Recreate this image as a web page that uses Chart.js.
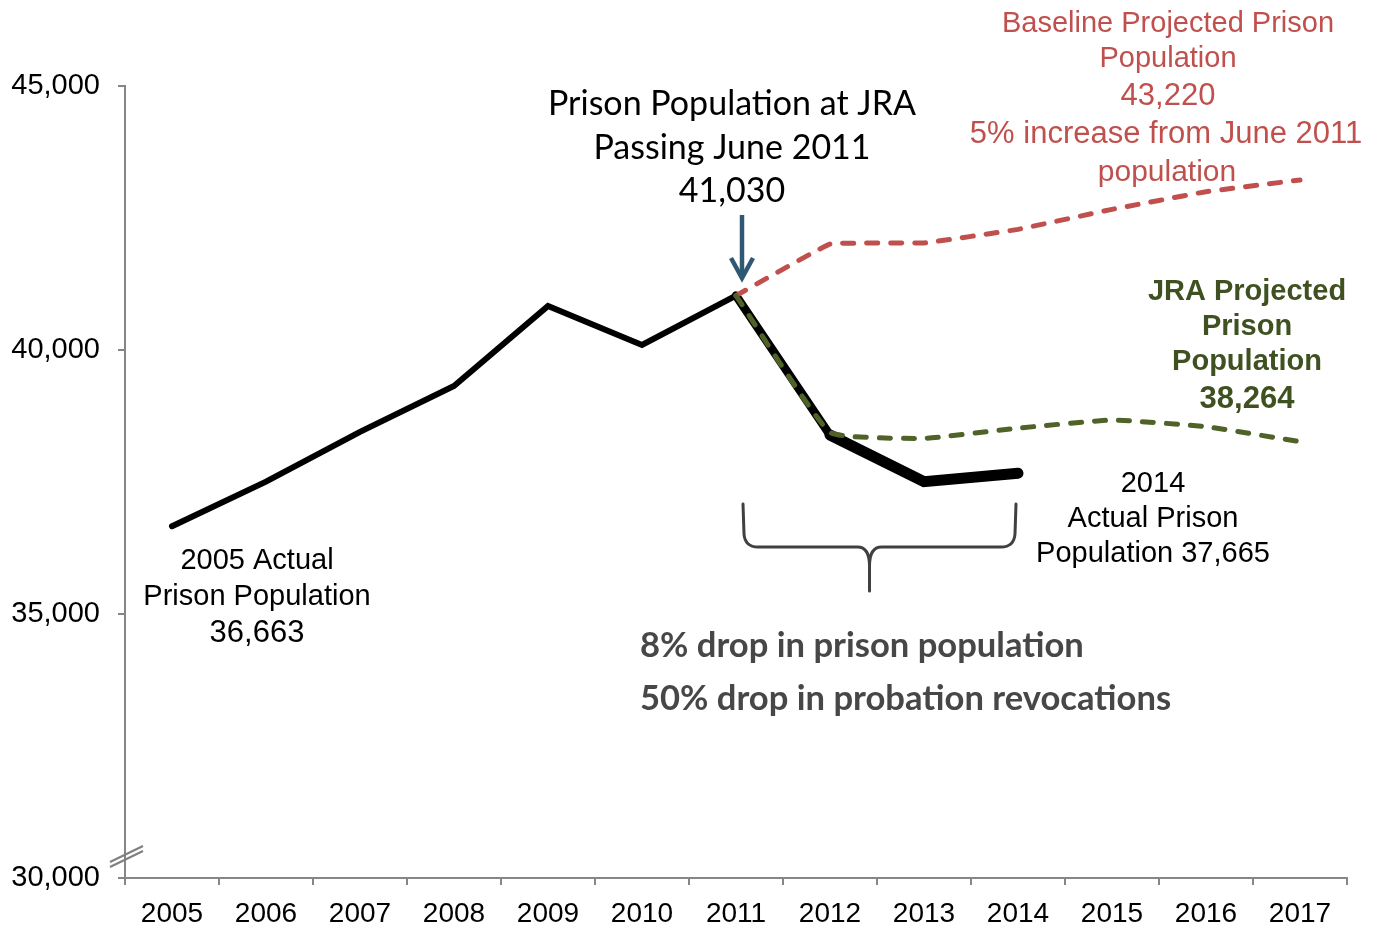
<!DOCTYPE html>
<html>
<head>
<meta charset="utf-8">
<script src="https://cdn.jsdelivr.net/npm/chart.js@4/dist/chart.umd.min.js"></script>
<style>
  html, body { margin: 0; padding: 0; background: #fff; }
  #wrap { width: 1382px; height: 928px; position: relative; }
</style>
</head>
<body>
<div id="wrap"><canvas id="c"></canvas></div>
<script>
// ---- data ----
const years = ['2005','2006','2007','2008','2009','2010','2011','2012','2013','2014','2015','2016','2017'];
const actualPop = [36663, 37506, 38450, 39318, 40833, 40095, 41030, 38390, 37506, 37665, null, null, null];
const baselineProj = [null, null, null, null, null, null, 41030, 42008, 42027, 42285, 42664, 42998, 43220];
const jraProj = [null, null, null, null, null, null, 41030, 38441, 38327, 38520, 38674, 38548, 38264];
const yTickValues = [30000, 35000, 40000, 45000];

const RED = '#c0504d';
const GREEN = '#4f6228';
const AXIS = '#868686';
const SANS = '"Liberation Sans", Arial, sans-serif';
const HUMAN = 'Lato, "Open Sans", sans-serif';

function fitSize(ctx, text, weight, family, target) {
  ctx.font = weight + ' 40px ' + family;
  return 40 * target / ctx.measureText(text).width;
}
function lines(ctx, arr, x, ys, font, color) {
  ctx.font = font; ctx.fillStyle = color;
  ctx.textAlign = 'center'; ctx.textBaseline = 'middle';
  arr.forEach((t, i) => ctx.fillText(t, x, ys[i]));
}

const annotations = {
  id: 'annotations',
  afterDraw(chart) {
    const ctx = chart.ctx;
    const xs = chart.scales.x, ys = chart.scales.y;
    ctx.save();

    // axis break marks
    const ax = xs.left;
    const yb = ys.getPixelForValue(30000) - 24;
    ctx.strokeStyle = '#7f7f7f'; ctx.lineWidth = 2;
    [0, 5].forEach(o => {
      ctx.beginPath();
      ctx.moveTo(ax - 15, yb + 8 + o);
      ctx.lineTo(ax + 18, yb - 8 + o);
      ctx.stroke();
    });

    // arrow toward 2011 point
    const x11 = xs.getPixelForValue(6) + 6;
    ctx.strokeStyle = '#2f5874'; ctx.lineWidth = 4.5; ctx.lineCap = 'butt'; ctx.lineJoin = 'miter';
    ctx.beginPath(); ctx.moveTo(x11, 215); ctx.lineTo(x11, 277); ctx.stroke();
    ctx.beginPath(); ctx.moveTo(x11 - 11, 258); ctx.lineTo(x11, 278); ctx.lineTo(x11 + 11, 258); ctx.stroke();

    // brace under 2011-2014
    const bl = xs.getPixelForValue(6) + 8, br = xs.getPixelForValue(9) - 3;
    const bm = (bl + br) / 2 - 10;
    ctx.strokeStyle = '#404040'; ctx.lineWidth = 3; ctx.lineJoin = 'round'; ctx.lineCap = 'round';
    ctx.beginPath();
    ctx.moveTo(bl - 1, 504);
    ctx.lineTo(bl, 534);
    ctx.quadraticCurveTo(bl + 1, 547, bl + 14, 547);
    ctx.lineTo(bm - 12, 547);
    ctx.quadraticCurveTo(bm, 547, bm, 566);
    ctx.lineTo(bm, 591);
    ctx.moveTo(bm, 566);
    ctx.quadraticCurveTo(bm, 547, bm + 12, 547);
    ctx.lineTo(br - 14, 547);
    ctx.quadraticCurveTo(br - 1, 547, br, 534);
    ctx.lineTo(br + 1, 504);
    ctx.stroke();

    // title annotation
    const ts = fitSize(ctx, 'Prison Population at JRA', 'normal', HUMAN, 368);
    lines(ctx, ['Prison Population at JRA', 'Passing June 2011', '41,030'], 732, [104, 148, 191],
      'normal ' + ts.toFixed(1) + 'px ' + HUMAN, '#000');

    // baseline projection label
    lines(ctx, ['Baseline Projected Prison', 'Population'], 1168, [24, 59], '29px ' + SANS, RED);
    lines(ctx, ['43,220'], 1168, [96], '31px ' + SANS, RED);
    lines(ctx, ['5% increase from June 2011'], 1166, [134], '31px ' + SANS, RED);
    lines(ctx, ['population'], 1167, [173], '30px ' + SANS, RED);

    // JRA projection label
    lines(ctx, ['JRA Projected', 'Prison', 'Population'], 1247, [292, 327, 362], 'bold 29px ' + SANS, '#3f5120');
    lines(ctx, ['38,264'], 1247, [399], 'bold 31px ' + SANS, '#3f5120');

    // 2005 label
    lines(ctx, ['2005 Actual', 'Prison Population'], 257, [561, 597], '29px ' + SANS, '#000');
    lines(ctx, ['36,663'], 257, [633], '31px ' + SANS, '#000');

    // 2014 label
    lines(ctx, ['2014', 'Actual Prison', 'Population 37,665'], 1153, [484, 519, 554], '29px ' + SANS, '#000');

    // grey bold statements
    const gs = fitSize(ctx, '50% drop in probation revocations', 'bold', HUMAN, 531);
    ctx.font = 'bold ' + gs.toFixed(1) + 'px ' + HUMAN;
    ctx.fillStyle = '#474747'; ctx.textAlign = 'left'; ctx.textBaseline = 'middle';
    ctx.fillText('8% drop in prison population', 640, 646);
    ctx.fillText('50% drop in probation revocations', 640, 699);

    ctx.restore();
  }
};

new Chart(document.getElementById('c'), {
  type: 'line',
  data: {
    labels: years,
    datasets: [
      {
        label: 'JRA Projected', data: jraProj, order: 1,
        borderColor: GREEN, borderWidth: 5, borderDash: [11, 13], borderCapStyle: 'round',
        tension: 0.12, pointRadius: 0, spanGaps: false
      },
      {
        label: 'Baseline Projected', data: baselineProj, order: 2,
        borderColor: RED, borderWidth: 5, borderDash: [11, 13], borderCapStyle: 'round',
        tension: 0.06, pointRadius: 0
      },
      {
        label: 'Actual', data: actualPop, order: 3,
        borderColor: '#000', borderWidth: 6, borderCapStyle: 'round', borderJoinStyle: 'miter',
        tension: 0, pointRadius: 0,
        segment: {
          borderWidth: c => c.p0DataIndex >= 7 ? 11 : (c.p0DataIndex === 6 ? 8.5 : 6)
        }
      }
    ]
  },
  options: {
    responsive: true,
    maintainAspectRatio: false,
    animation: false,
    events: [],
    layout: { padding: { top: 86, right: 35, left: 0, bottom: 0 } },
    plugins: { legend: { display: false }, tooltip: { enabled: false }, title: { display: false } },
    scales: {
      x: {
        type: 'category',
        offset: true,
        grid: { offset: true, drawOnChartArea: false, drawTicks: true, tickLength: 7, color: AXIS, lineWidth: 2 },
        border: { color: AXIS, width: 2 },
        ticks: { color: '#000', font: { family: SANS, size: 28 }, padding: 12, maxRotation: 0, autoSkip: false },
        afterFit: s => { s.height = 50; }
      },
      y: {
        min: 30000, max: 45000,
        afterBuildTicks: s => { s.ticks = yTickValues.map(v => ({ value: v })); },
        grid: { drawOnChartArea: false, drawTicks: true, tickLength: 7, color: AXIS, lineWidth: 2 },
        border: { color: AXIS, width: 2 },
        ticks: {
          color: '#000', font: { family: SANS, size: 29 }, padding: 18,
          callback: v => v.toLocaleString('en-US')
        },
        afterFit: s => { s.width = 125; }
      }
    }
  },
  plugins: [annotations]
});
</script>
</body>
</html>
